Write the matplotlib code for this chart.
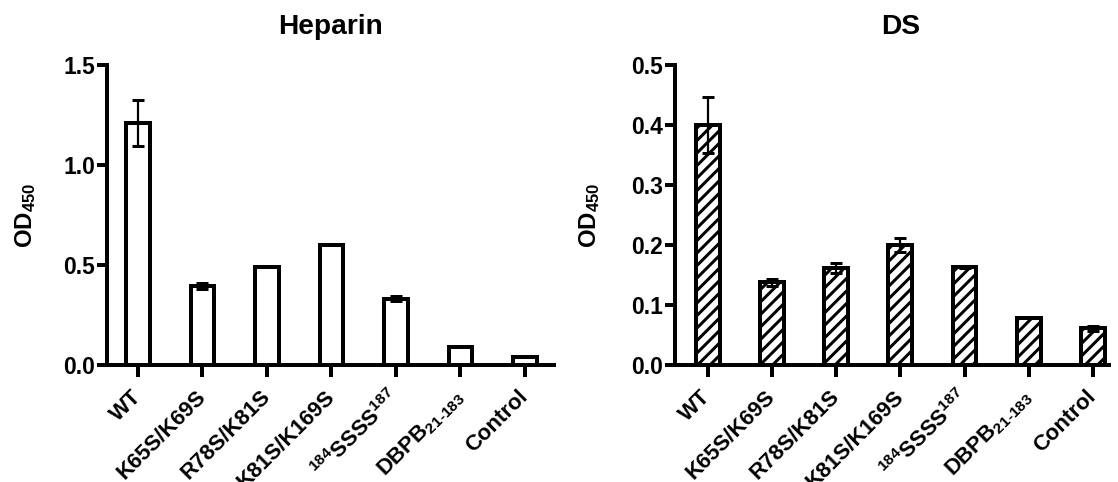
import numpy as np
import matplotlib
matplotlib.use("Agg")
import matplotlib.pyplot as plt

# data
categories = ["WT", "K65S/K69S", "R78S/K81S", "K81S/K169S",
              r"$^{184}$SSSS$^{187}$", r"DBPB$_{21\text{-}183}$", "Control"]

heparin_mean = [1.21, 0.395, 0.49, 0.60, 0.332, 0.088, 0.042]
heparin_err = [0.115, 0.014, 0.0, 0.0, 0.011, 0.0, 0.0]

ds_mean = [0.400, 0.138, 0.162, 0.200, 0.163, 0.079, 0.061]
ds_err = [0.046, 0.006, 0.008, 0.012, 0.002, 0.001, 0.004]

DPI = 150
PX = 72.0 / DPI  # one pixel in points

plt.rcParams["font.family"] = ["Liberation Sans", "DejaVu Sans"]
plt.rcParams["font.weight"] = "bold"
plt.rcParams["mathtext.fontset"] = "custom"
plt.rcParams["mathtext.rm"] = "Liberation Sans:bold"
plt.rcParams["mathtext.bf"] = "Liberation Sans:bold"
plt.rcParams["mathtext.it"] = "Liberation Sans:bold"
plt.rcParams["mathtext.default"] = "bf"
plt.rcParams["hatch.linewidth"] = 3 * PX
plt.rcParams["hatch.color"] = "black"

fig = plt.figure(figsize=(1118 / DPI, 482 / DPI), dpi=DPI)

W, H = 1118.0, 482.0
ax1 = fig.add_axes([107 / W, 1 - 365 / H, (554 - 107) / W, 300 / H])
ax2 = fig.add_axes([675 / W, 1 - 365 / H, (1109 - 675) / W, 300 / H])

x = np.arange(len(categories))
bar_w = 0.37


def draw(ax, mean, err, hatch, title, ylim, yticks, xlim, ypad, tx):
    ax.bar(x, mean, width=bar_w, color="white", edgecolor="black",
           linewidth=4 * PX, hatch=hatch, zorder=2)
    ax.errorbar(x, mean, yerr=err, fmt="none", ecolor="black",
                elinewidth=2.2 * PX, capsize=6 * PX, capthick=3 * PX, zorder=3)
    ax.set_xlim(*xlim)
    ax.set_ylim(*ylim)
    ax.set_yticks(yticks)
    ax.set_yticklabels([f"{v:.1f}" for v in yticks])
    ax.set_xticks(x)
    ax.set_xticklabels(categories, rotation=45, ha="right", va="center",
                       rotation_mode="anchor")
    for s in ["top", "right"]:
        ax.spines[s].set_visible(False)
    for s in ["left", "bottom"]:
        ax.spines[s].set_linewidth(4 * PX)
    ax.tick_params(axis="y", length=10 * PX, width=4 * PX, pad=1,
                   labelsize=11)
    ax.tick_params(axis="x", length=12 * PX, width=4 * PX, pad=8,
                   labelsize=10.6)
    ax.set_ylabel("OD$_{450}$", fontsize=11.5, fontweight="bold",
                  labelpad=ypad)
    ax.set_title(title, fontsize=13.5, fontweight="bold", pad=15, x=tx)


draw(ax1, heparin_mean, heparin_err, None, "Heparin",
     (0, 1.5), [0.0, 0.5, 1.0, 1.5], (-0.48, 6.45), 12, 0.5)
draw(ax2, ds_mean, ds_err, "////", "DS",
     (0, 0.5), [0.0, 0.1, 0.2, 0.3, 0.4, 0.5], (-0.51, 6.25), 14, 0.52)

fig.savefig("out.png", dpi=DPI)
